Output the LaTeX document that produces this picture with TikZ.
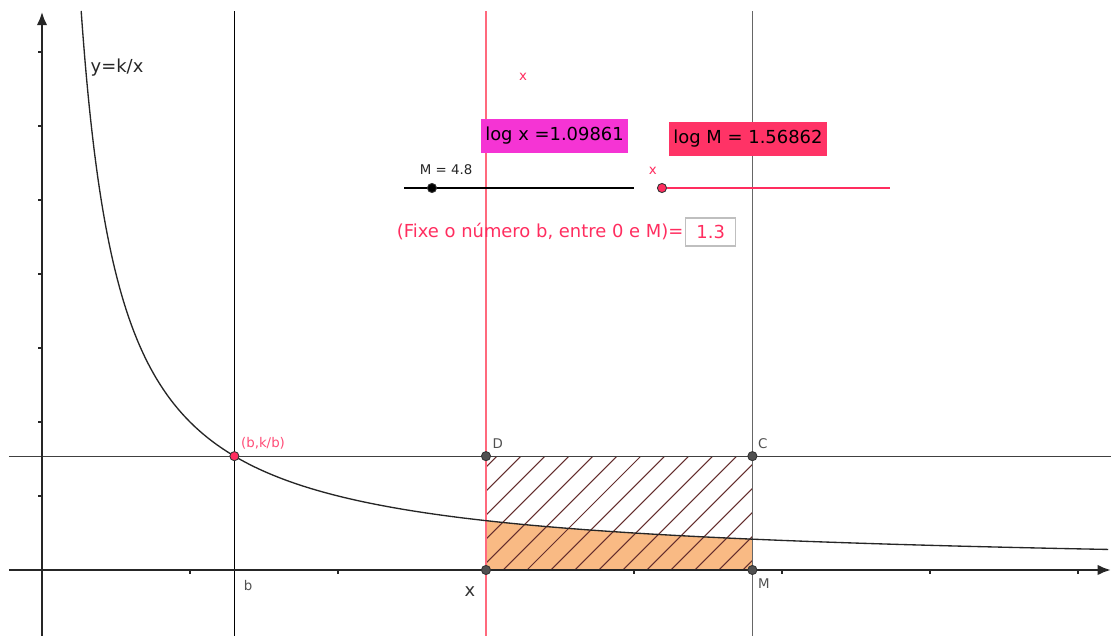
\documentclass[tikz,border=0pt]{standalone}
\usepackage{fontspec}
\setmainfont{DejaVu Sans}
\usetikzlibrary{arrows.meta,positioning}

\definecolor{ggRed}{RGB}{255,45,95}
\definecolor{ggPink}{RGB}{255,105,125}
\definecolor{ggMagenta}{RGB}{245,52,212}
\definecolor{ggRose}{RGB}{255,51,102}
\definecolor{ggOrange}{RGB}{249,186,132}
\definecolor{ggOrangeEdge}{RGB}{230,120,40}
\definecolor{ggHatch}{RGB}{100,45,45}
\definecolor{ggGray}{RGB}{80,80,80}

\tikzset{
  axisline/.style={line width=0.7pt, draw=black!85, -{Latex[length=3.8pt,width=3pt]}},
  blackline/.style={line width=0.3pt, draw=black},
  pinkline/.style={line width=0.4pt, draw=ggPink},
  grayline/.style={line width=0.4pt, draw=black!60},
  tickmark/.style={line width=0.5pt, draw=black!85},
  ptdot/.style={circle, draw=black!80, fill=ggGray, line width=0.25pt, inner sep=0pt, minimum size=2.6pt},
  ptlabel/.style={font=\fontsize{3.8}{4.5}\selectfont, text=ggGray, inner sep=0pt, anchor=west},
  smalltext/.style={font=\fontsize{3.8}{4.5}\selectfont, inner sep=0pt},
  bigtext/.style={font=\fontsize{5.1}{6}\selectfont, inner sep=0pt},
  valuebox/.style={bigtext, minimum height=0.34cm, text=black},
}

\begin{document}
\begin{tikzpicture}[x=1.48cm, y=1.48cm]
  \useasboundingbox (-0.2838,-0.4459) rectangle (7.2230,3.8514);

  % Area under y=k/x between x and M
  \fill[ggOrange] (3,0) -- plot[domain=3:4.8, samples=60] (\x,{1/\x}) -- (4.8,0) -- cycle;
  \draw[line width=0.4pt, ggOrangeEdge] (3,0) -- (4.8,0);

  % Hatched rectangle
  \begin{scope}
    \clip (3,0) rectangle (4.8,0.7692);
    \foreach \i in {0,...,17} {
      \draw[ggHatch, line width=0.3pt] (2.143+0.162*\i,0) -- ++(0.8,0.8);
    }
  \end{scope}

  % Vertical lines through b, x and M
  \foreach \name/\xv/\sty in {b/1.3/blackline, x/3/pinkline, M/4.8/grayline} {
    \coordinate (\name bot) at (\xv,-0.4459);
    \coordinate (\name top) at (\xv,3.777);
    \draw[\sty] (\name bot) -- (\name top);
  }

  % Horizontal line y=k/b
  \coordinate (hLeft) at (-0.223,0.7692);
  \coordinate (hRight) at (7.223,0.7692);
  \draw[line width=0.35pt, black!75] (hLeft) -- (hRight);

  % Axes and ticks
  \coordinate (yBot) at (0,-0.4459);
  \coordinate (yTop) at (0,3.772);
  \coordinate (xLeft) at (-0.223,0);
  \coordinate (xRight) at (7.223,0);
  \draw[axisline] (yBot) -- (yTop);
  \draw[axisline] (xLeft) -- (xRight);
  \foreach \t in {1,...,7} {
    \draw[tickmark] (\t,0) -- (\t,-0.027);
  }
  \foreach \t in {-0.5,0.5,1,1.5,2,2.5,3,3.5} {
    \draw[tickmark] (0,\t) -- (-0.027,\t);
  }

  % Curve y=k/x
  \draw[line width=0.38pt, black!85] plot[domain=-1.329:1.977, samples=200] ({exp(\x)},{exp(-\x)});
  \node[bigtext, text=black!85] (curvelabel) at (0.507,3.392) {y=k/x};

  % Points and their labels
  \node[ptdot] (D) at (3,0.7692) {};
  \node[ptdot] (C) at (4.8,0.7692) {};
  \node[ptdot] (X) at (3,0) {};
  \node[ptdot] (Mpt) at (4.8,0) {};
  \node[ptdot, fill=ggRed] (P) at (1.3,0.7692) {};
  \coordinate (B) at (1.3,0);
  \node[ptlabel, xshift=1.7pt, yshift=3.7pt] (Dlabel) at (D) {D};
  \node[ptlabel, xshift=1.4pt, yshift=3.7pt] (Clabel) at (C) {C};
  \node[ptlabel, xshift=1.4pt, yshift=-4pt] (Mlabel) at (Mpt) {M};
  \node[ptlabel, xshift=2.5pt, yshift=-4.3pt] (blabel) at (B) {b};
  \node[ptlabel, text=ggRed!85, xshift=1.7pt, yshift=3.6pt] (Plabel) at (P) {(b,k/b)};
  \node[bigtext, text=black!80] (xlabel) at (2.892,-0.149) {x};

  % Sliders
  \coordinate (sMleft) at (2.446,2.581);
  \coordinate (sMright) at (3.9995,2.581);
  \draw[line width=0.35pt] (sMleft) -- (sMright);
  \node[ptdot, fill=black] (sM) at (2.635,2.581) {};
  \node[smalltext, text=black!85] (sMlabel) at (2.730,2.703) {M = 4.8};
  \node[ptdot, fill=ggRed] (sx) at (4.189,2.581) {};
  \coordinate (sxright) at (5.730,2.581);
  \draw[line width=0.35pt, ggRed] (sx) -- (sxright);
  \node[smalltext, text=ggRed] (sxlabel) at (4.128,2.696) {x};
  \node[smalltext, text=ggRed] (topx) at (3.250,3.331) {x};

  % Logarithm values
  \node[valuebox, fill=ggMagenta, minimum width=1.47cm] (logx) at (3.463,2.932) {log x =1.09861};
  \node[valuebox, fill=ggRose, minimum width=1.58cm] (logM) at (4.770,2.912) {log M = 1.56862};

  % Input for b
  \node[bigtext, text=ggRed, anchor=east] (ask) at (4.338,2.284) {(Fixe o número b, entre 0 e M)=};
  \node[bigtext, draw=black!25, line width=0.4pt, text=ggRed, minimum width=0.5cm,
        minimum height=0.28cm, right=0.01cm of ask] (bval) {1.3};
\end{tikzpicture}
\end{document}
